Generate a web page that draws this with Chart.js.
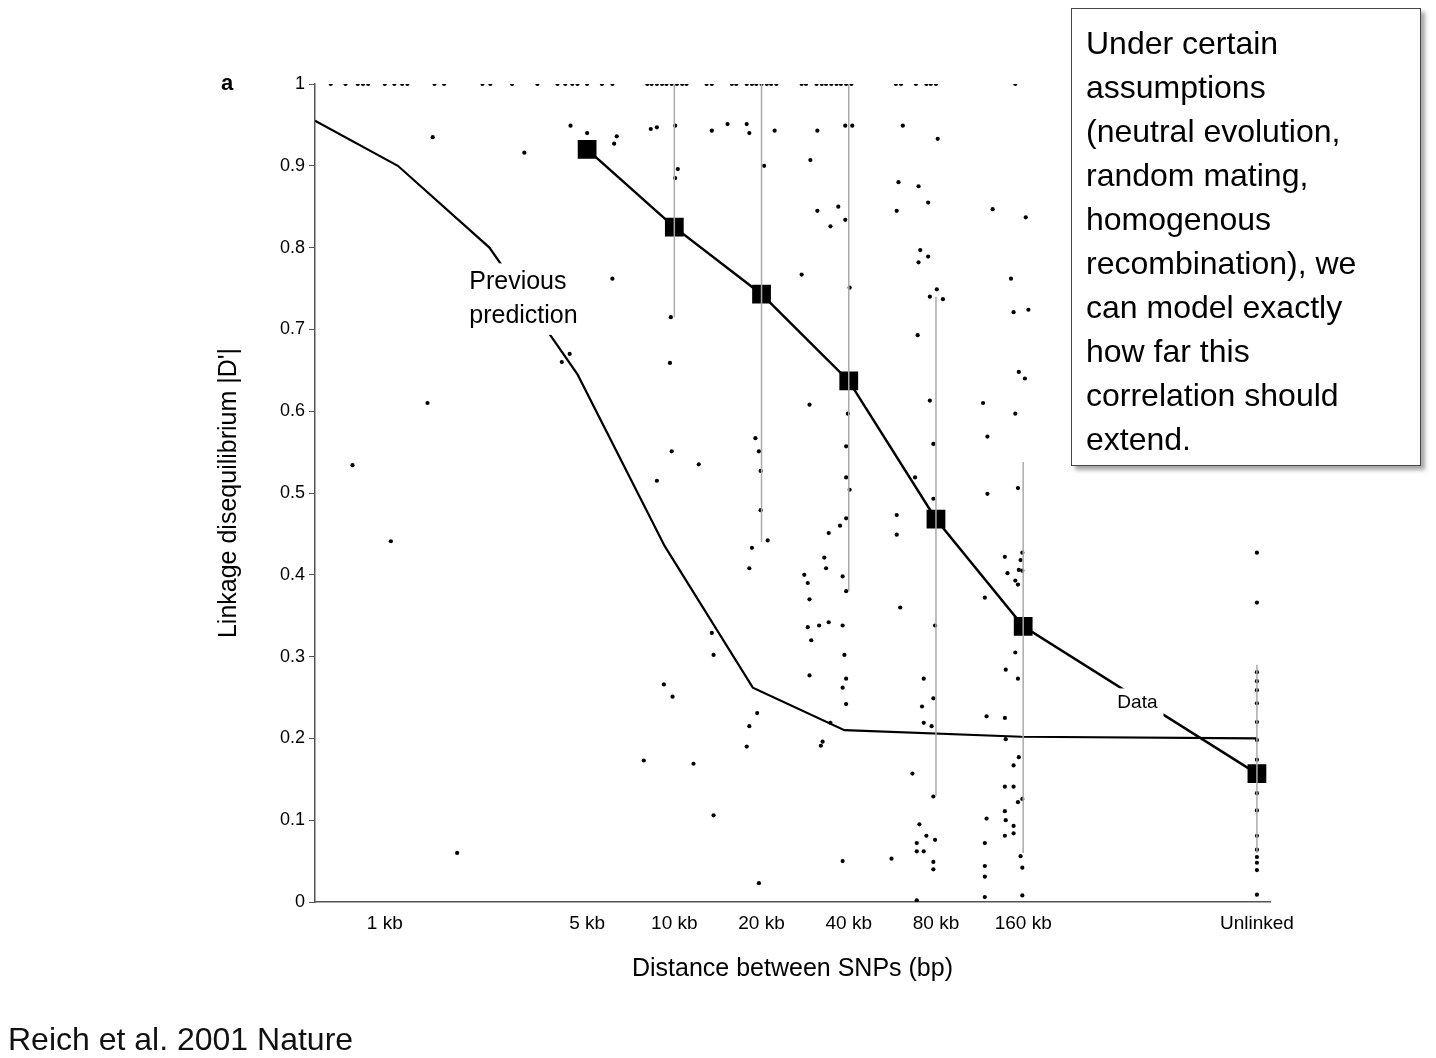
<!DOCTYPE html>
<html>
<head>
<meta charset="utf-8">
<script src="https://cdn.jsdelivr.net/npm/chart.js@4"></script>
<style>
    body { margin: 0; background: #fff; font-family: "Liberation Sans", Arial, sans-serif; }
    #wrap { position: relative; width: 1436px; height: 1058px; }
    #note {
        position: absolute; left: 1071px; top: 8px; width: 320px; height: 430px;
        border: 1.5px solid #444; background: #fff; padding: 12px 14px 14px 14px;
        box-shadow: 4px 4px 4px rgba(0,0,0,0.35);
        font-size: 32px; line-height: 44px; color: #000; white-space: nowrap;
    }
    #cite { position: absolute; left: 8px; top: 1021px; font-size: 32px; color: #111; }
</style>
</head>
<body>
<div id="wrap">
    <canvas id="myChart" width="1436" height="1058"></canvas>
    <div id="note">Under certain<br>assumptions<br>(neutral evolution,<br>random mating,<br>homogenous<br>recombination), we<br>can model exactly<br>how far this<br>correlation should<br>extend.</div>
    <div id="cite">Reich et al. 2001 Nature</div>
</div>
<script>
// x values are log2(distance in kb); "Unlinked" is placed at 10
const tickPos = [0, 2.32, 3.32, 4.32, 5.32, 6.32, 7.32, 10]
const tickLabels = ["1 kb", "5 kb", "10 kb", "20 kb", "40 kb", "80 kb", "160 kb", "Unlinked"]

// mean |D'| per distance bin
const dataX = [2.32, 3.32, 4.32, 5.32, 6.32, 7.32, 10]
const dataY = [0.92, 0.825, 0.743, 0.637, 0.468, 0.337, 0.157]

// previous prediction curve
const predX = [-0.8, 0.15, 1.20, 2.21, 3.21, 4.22, 5.27, 7.30, 10.0]
const predY = [0.955, 0.90, 0.80, 0.645, 0.435, 0.262, 0.21, 0.202, 0.20]

// grey range bars
const rangeX = [3.32, 4.32, 5.32, 6.32, 7.32, 10]
const rangeLo = [0.715, 0.44, 0.38, 0.13, 0.06, 0.06]
const rangeHi = [1, 1, 1, 0.74, 0.538, 0.29]

// individual SNP pairs at |D'| = 1
const topX = [-0.62, -0.45, -0.31, -0.25, -0.19, 0.0, 0.11, 0.20, 0.26, 0.57, 0.68, 1.12, 1.21, 1.46, 1.75,
    1.98, 2.07, 2.15, 2.21, 2.32, 2.49, 2.61, 3.01, 3.06, 3.12, 3.18, 3.23, 3.29, 3.35, 3.41, 3.46, 3.69, 3.75,
    3.98, 4.03, 4.15, 4.21, 4.26, 4.32, 4.38, 4.43, 4.49, 4.78, 4.83, 4.95, 5.01, 5.06, 5.12, 5.18, 5.23, 5.29,
    5.35, 5.86, 5.92, 6.09, 6.21, 6.26, 6.32, 7.23]

// other SNP pairs [x, |D'|]
const scatterPts = [
    [0.55, 0.935], [-0.37, 0.534], [0.07, 0.441], [0.49, 0.61], [0.83, 0.06], [1.60, 0.916],
    [2.13, 0.949], [2.32, 0.94], [2.63, 0.927], [2.66, 0.936], [2.61, 0.762], [2.03, 0.66], [2.12, 0.67],
    [3.05, 0.945], [3.12, 0.947], [3.33, 0.949], [3.36, 0.896], [3.33, 0.885], [3.28, 0.715], [3.27, 0.659],
    [3.75, 0.943], [3.93, 0.951], [4.15, 0.951], [4.18, 0.94], [4.35, 0.9], [4.47, 0.943], [4.96, 0.943],
    [4.88, 0.907], [4.78, 0.767], [4.96, 0.845], [5.2, 0.85], [5.11, 0.826], [5.28, 0.834], [5.28, 0.949],
    [5.36, 0.949], [5.33, 0.751], [5.94, 0.949], [6.34, 0.933], [5.89, 0.88], [6.12, 0.875], [6.23, 0.855],
    [5.87, 0.845], [6.14, 0.797], [6.23, 0.789], [6.12, 0.782], [6.33, 0.749], [6.25, 0.74], [6.4, 0.737],
    [6.11, 0.693], [6.97, 0.847], [7.35, 0.837], [7.18, 0.762], [7.21, 0.721], [7.38, 0.724],
    [3.12, 0.515], [3.29, 0.551], [3.6, 0.535], [3.20, 0.266], [3.30, 0.251], [2.97, 0.173], [3.54, 0.169],
    [3.77, 0.106], [3.75, 0.329], [3.77, 0.302],
    [4.25, 0.567], [4.29, 0.551], [4.31, 0.527], [4.31, 0.479], [4.39, 0.442], [4.21, 0.433], [4.18, 0.408],
    [4.27, 0.231], [4.18, 0.215], [4.15, 0.19], [4.29, 0.023],
    [4.87, 0.608], [5.09, 0.451], [5.04, 0.421], [5.06, 0.408], [4.81, 0.4], [4.85, 0.39], [4.87, 0.37],
    [4.85, 0.336], [4.98, 0.338], [5.09, 0.342], [4.89, 0.32], [4.87, 0.277], [5.11, 0.219], [5.02, 0.196],
    [5.0, 0.191],
    [5.31, 0.597], [5.29, 0.557], [5.29, 0.519], [5.33, 0.504], [5.29, 0.469], [5.22, 0.46], [5.25, 0.398],
    [5.29, 0.38], [5.25, 0.338], [5.27, 0.302], [5.29, 0.273], [5.25, 0.262], [5.29, 0.242], [5.25, 0.05],
    [6.25, 0.613], [6.29, 0.56], [6.08, 0.519], [6.29, 0.493], [5.87, 0.473], [5.87, 0.449], [5.91, 0.36],
    [6.31, 0.338], [6.18, 0.273], [6.29, 0.249], [6.16, 0.239], [6.18, 0.219], [6.27, 0.215], [6.05, 0.157],
    [6.29, 0.129], [6.13, 0.095], [6.21, 0.081], [6.31, 0.076], [6.10, 0.072], [6.10, 0.062], [6.18, 0.062],
    [6.29, 0.049], [6.29, 0.04], [5.81, 0.053], [6.10, 0.002],
    [6.86, 0.61], [6.91, 0.569], [6.91, 0.499], [6.88, 0.372], [6.90, 0.227], [7.11, 0.225], [7.11, 0.422],
    [7.14, 0.402], [7.27, 0.406], [7.29, 0.418], [7.31, 0.427], [7.23, 0.393], [7.26, 0.388], [7.31, 0.405],
    [7.26, 0.506], [7.23, 0.597], [7.27, 0.648], [7.34, 0.64], [7.23, 0.305], [7.12, 0.284], [7.26, 0.273],
    [7.12, 0.199], [7.27, 0.177], [7.21, 0.167], [7.11, 0.141], [7.21, 0.141], [7.26, 0.122], [7.31, 0.126],
    [6.90, 0.102], [7.11, 0.111], [7.12, 0.1], [7.21, 0.093], [7.11, 0.081], [7.21, 0.084], [6.88, 0.072],
    [7.29, 0.056], [7.31, 0.042], [6.88, 0.044], [6.88, 0.031], [6.88, 0.006], [7.31, 0.008]
]
// unlinked pairs
const unlinkedY = [0.427, 0.366, 0.281, 0.27, 0.259, 0.243, 0.22, 0.198, 0.174, 0.148, 0.133, 0.112,
    0.081, 0.064, 0.055, 0.048, 0.039, 0.009]

// text labels drawn on the plot
const labels = [
    { x: 1.59, y: 0.737, lines: ["Previous", "prediction"], size: 25 },
    { x: 8.63, y: 0.243, lines: ["Data"], size: 19 }
]

const font = "'Liberation Sans', Arial, sans-serif"
Chart.defaults.font.family = font
Chart.defaults.color = "#000"

const points = scatterPts.map(p => ({ x: p[0], y: p[1] }))
topX.forEach(x => points.push({ x: x, y: 1 }))
unlinkedY.forEach(y => points.push({ x: 10, y: y }))

const datasets = []
rangeX.forEach((x, i) => {
    datasets.push({
        type: "line",
        data: [{ x: x, y: rangeLo[i] }, { x: x, y: rangeHi[i] }],
        borderColor: "#aaa", borderWidth: 1.5, pointRadius: 0
    })
})
datasets.push({
    type: "scatter", data: points,
    backgroundColor: "#000", borderWidth: 0, pointRadius: 2.1
})
datasets.push({
    type: "line", label: "Previous prediction",
    data: predX.map((x, i) => ({ x: x, y: predY[i] })),
    borderColor: "#000", borderWidth: 2.2, pointRadius: 0, tension: 0
})
datasets.push({
    type: "line", label: "Data",
    data: dataX.map((x, i) => ({ x: x, y: dataY[i] })),
    borderColor: "#000", borderWidth: 2.5, backgroundColor: "#000",
    pointStyle: "rect", pointRadius: 11.5, tension: 0
})

const labelPlugin = {
    id: "labelPlugin",
    afterDatasetsDraw(chart) {
        const ctx = chart.ctx
        const xs = chart.scales.x, ys = chart.scales.y
        labels.forEach(l => {
            const cx = xs.getPixelForValue(l.x), cy = ys.getPixelForValue(l.y)
            ctx.save()
            ctx.font = l.size + "px " + font
            const lh = l.size * 1.35
            const w = Math.max(...l.lines.map(t => ctx.measureText(t).width))
            const h = lh * l.lines.length
            ctx.fillStyle = "#fff"
            ctx.fillRect(cx - w / 2 - 6, cy - h / 2 - 2, w + 12, h + 4)
            ctx.fillStyle = "#000"
            ctx.textBaseline = "middle"
            ctx.textAlign = "left"
            l.lines.forEach((t, i) => ctx.fillText(t, cx - w / 2, cy - h / 2 + lh * (i + 0.5)))
            ctx.restore()
        })
        // panel letter
        ctx.save()
        ctx.font = "bold 22px " + font
        ctx.textBaseline = "middle"
        ctx.fillText("a", 221, ys.getPixelForValue(1))
        ctx.restore()
    }
}

new Chart(document.getElementById("myChart"), {
    type: "scatter",
    data: { datasets: datasets },
    options: {
        responsive: false,
        animation: false,
        layout: { padding: { left: 210, top: 84, right: 166, bottom: 70 } },
        plugins: { legend: { display: false }, tooltip: { enabled: false } },
        scales: {
            x: {
                type: "linear", min: -0.8, max: 10.15,
                afterBuildTicks: s => { s.ticks = tickPos.map(v => ({ value: v })) },
                afterFit: s => { s.height = 86 },
                ticks: {
                    autoSkip: false, maxRotation: 0, padding: 2,
                    font: { size: 19 },
                    callback: v => tickLabels[tickPos.indexOf(v)]
                },
                grid: { display: false },
                border: { color: "#555", width: 1.5 },
                title: { display: true, text: "Distance between SNPs (bp)", font: { size: 25 }, padding: { top: 8 } }
            },
            y: {
                min: 0, max: 1,
                afterFit: s => { s.width = 105 },
                ticks: { stepSize: 0.1, font: { size: 18 }, padding: 4,
                    callback: v => Math.round(v * 10) / 10 },
                grid: { drawOnChartArea: false, tickLength: 6, color: "#555" },
                border: { color: "#555", width: 1.5 },
                title: { display: true, text: "Linkage disequilibrium |D'|", font: { size: 25 }, padding: { bottom: 10 } }
            }
        }
    },
    plugins: [labelPlugin]
})
</script>
</body>
</html>
